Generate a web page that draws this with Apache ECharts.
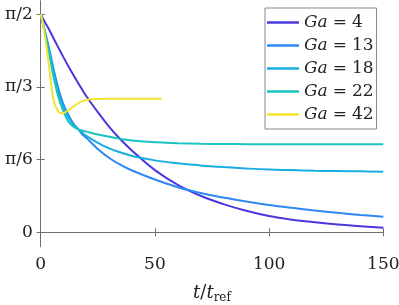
<!DOCTYPE html>
<html>
<head>
<meta charset="utf-8">
<script src="https://cdn.jsdelivr.net/npm/echarts@6/dist/echarts.min.js"></script>
<style>html,body{margin:0;padding:0;background:#fff}#c{width:399px;height:305px}</style>
</head>
<body>
<div id="c"></div>
<script>
const seriesNames = ['Ga = 4', 'Ga = 13', 'Ga = 18', 'Ga = 22', 'Ga = 42'];
const tMain = [0,2,4,6,8,10,12,14,16,18,20,25,30,35,40,50,60,70,80,90,100,110,120,130,140,150];
const ga4  = [1.571,1.51,1.45,1.385,1.322,1.26,1.2,1.142,1.086,1.032,0.98,0.865,0.76,0.668,0.588,0.448,0.342,0.263,0.203,0.155,0.117,0.091,0.072,0.056,0.044,0.033];
const ga13 = [1.571,1.44,1.30,1.15,1.02,0.92,0.85,0.79,0.75,0.71,0.68,0.60,0.535,0.485,0.445,0.38,0.325,0.283,0.25,0.222,0.197,0.176,0.157,0.14,0.125,0.112];
const ga18 = [1.571,1.43,1.28,1.12,0.99,0.90,0.83,0.78,0.75,0.72,0.695,0.645,0.605,0.575,0.55,0.518,0.497,0.482,0.47,0.46,0.452,0.448,0.444,0.441,0.439,0.437];
const ga22 = [1.571,1.42,1.26,1.09,0.96,0.87,0.80,0.765,0.745,0.733,0.725,0.705,0.688,0.673,0.661,0.648,0.642,0.638,0.636,0.635,0.635,0.634,0.634,0.634,0.634,0.634];
const tY   = [0,1,2,3,4,5,6,7,8,9,10,12,14,16,18,20,22,25,30,40,53];
const ga42 = [1.571,1.50,1.40,1.28,1.15,1.01,0.93,0.89,0.867,0.857,0.859,0.877,0.902,0.926,0.943,0.953,0.958,0.961,0.962,0.962,0.962];
const yTickValues = [0, Math.PI/6, Math.PI/3, Math.PI/2];
const yTickLabels = ['0', 'π/6', 'π/3', 'π/2'];
const xTickLabels = ['0','50','100','150'];

const colors = ['#4a38df','#2e88f3','#18ade2','#1ac3bf','#f5e22c'];
const FONT = 'DejaVu Serif';
const chart = echarts.init(document.getElementById('c'));
const pair = (t, v) => t.map((x, i) => [x, v[i]]);
const allData = [pair(tMain, ga4), pair(tMain, ga13), pair(tMain, ga18), pair(tMain, ga22), pair(tY, ga42)];

function yLabel(v) {
  for (let i = 0; i < yTickValues.length; i++) if (Math.abs(v - yTickValues[i]) < 1e-6) return yTickLabels[i];
  return '';
}
const axisLineStyle = {color: '#6e6e6e', width: 1};
const tickStyle = {show: true, inside: true, length: 4, lineStyle: {color: '#6e6e6e', width: 1}};

chart.setOption({
  animation: false,
  grid: {left: 40.7, right: 15.7, top: 1, bottom: 58.3, show: false, containLabel: false, outerBoundsMode: 'none'},
  xAxis: [{
    type: 'value', min: 0, max: 150, interval: 50, position: 'bottom',
    axisLine: {show: true, lineStyle: axisLineStyle},
    axisTick: tickStyle, splitLine: {show: false},
    axisLabel: {margin: 9, color: '#222', fontFamily: FONT, fontSize: 17,
      formatter: v => xTickLabels[Math.round(v/50)] || ''},
    name: '{i|t}{n|/}{i|t}{s|ref}', nameLocation: 'middle', nameGap: 36,
    nameTextStyle: {rich: {
      i: {fontFamily: FONT, fontStyle: 'italic', fontSize: 18, color: '#222'},
      n: {fontFamily: FONT, fontSize: 18, color: '#222'},
      s: {fontFamily: FONT, fontSize: 12, color: '#222', padding: [9,0,0,0]}
    }}
  }, {
    type: 'value', min: 0, max: 150, interval: 50, position: 'top',
    axisLine: {show: true, lineStyle: axisLineStyle},
    axisTick: tickStyle, axisLabel: {show: false}, splitLine: {show: false}
  }],
  yAxis: [{
    type: 'value', min: -0.1037, max: 1.666, position: 'left',
    axisLine: {show: true, lineStyle: axisLineStyle},
    axisTick: Object.assign({}, tickStyle, {customValues: yTickValues}),
    splitLine: {show: false},
    axisLabel: {margin: 8, color: '#222', fontFamily: FONT, fontSize: 17,
      customValues: yTickValues, formatter: v => yLabel(v)}
  }, {
    type: 'value', min: -0.1037, max: 1.666, position: 'right',
    axisLine: {show: true, lineStyle: axisLineStyle},
    axisTick: Object.assign({}, tickStyle, {customValues: yTickValues}),
    axisLabel: {show: false}, splitLine: {show: false}
  }],
  legend: {
    orient: 'vertical', left: 265, top: 8,
    padding: [6, 3, 6, 2],
    itemWidth: 32, itemHeight: 2.5, itemGap: 6, icon: 'rect',
    backgroundColor: '#fff', borderColor: '#888', borderWidth: 1, borderRadius: 0,
    data: seriesNames,
    formatter: name => '{i|Ga}{e|=}{r|' + name.split('= ')[1] + '}',
    textStyle: {rich: {
      i: {fontFamily: FONT, fontStyle: 'italic', fontSize: 17, color: '#222', lineHeight: 18},
      e: {fontFamily: FONT, fontSize: 17, color: '#222', padding: [0, 5, 0, 5], lineHeight: 18},
      r: {fontFamily: FONT, fontSize: 17, color: '#222', lineHeight: 18}
    }}
  },
  series: allData.map((d, i) => ({
    name: seriesNames[i], type: 'line', data: d, showSymbol: false, symbol: 'none',
    smooth: 0.4,
    lineStyle: {color: colors[i], width: 2}, itemStyle: {color: colors[i]},
    z: 2 + i
  }))
});
</script>
</body>
</html>
